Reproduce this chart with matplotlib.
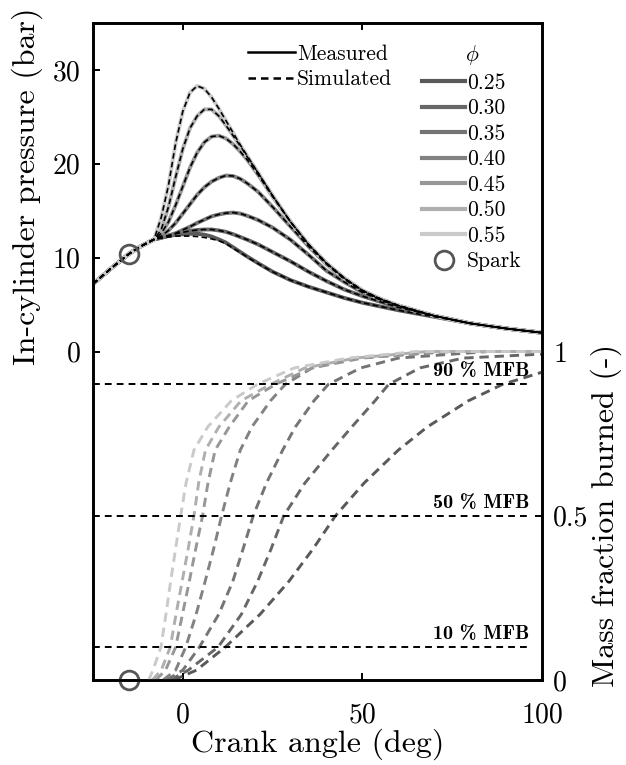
import matplotlib
matplotlib.use('Agg')
import matplotlib.pyplot as plt
from matplotlib.lines import Line2D

# LaTeX-like look
plt.rcParams['font.family'] = 'serif'
plt.rcParams['font.serif'] = ['cmr10']
plt.rcParams['mathtext.fontset'] = 'cm'
plt.rcParams['axes.formatter.use_mathtext'] = True
plt.rcParams['axes.unicode_minus'] = False

# equivalence ratios and their grey levels
phi_labels = ['0.25', '0.30', '0.35', '0.40', '0.45', '0.50', '0.55']
phi_colors = ['#595959', '#676767', '#747474', '#828282', '#979797', '#afafaf', '#cacaca']

# in-cylinder pressure (bar) vs crank angle (deg)
ca_p = [-25, -20, -15, -12, -10, -8, -6, -4, -2, 0, 2, 4, 6, 8, 10, 12, 14, 16, 18,
        21, 25, 30, 35, 40, 45, 50, 55, 60, 70, 80, 90, 100]
p_025 = [7.2, 8.85, 10.4, 11.15, 11.55, 11.95, 12.15, 12.3, 12.45, 12.5, 12.55, 12.55, 12.45,
         12.25, 11.95, 11.6, 11.1, 10.6, 10.1, 9.4, 8.5, 7.6, 6.9, 6.3, 5.7, 5.2, 4.8, 4.4,
         3.7, 3.0, 2.45, 2.0]
p_030 = [7.2, 8.85, 10.4, 11.15, 11.55, 11.95, 12.1, 12.35, 12.55, 12.7, 12.85, 12.95, 13.0,
         13.0, 12.9, 12.75, 12.5, 12.2, 11.9, 11.4, 10.6, 9.6, 8.5, 7.5, 6.6, 5.9, 5.3, 4.7,
         3.8, 3.0, 2.45, 2.0]
p_035 = [7.2, 8.85, 10.4, 11.15, 11.55, 11.95, 12.15, 12.35, 12.6, 12.95, 13.3, 13.7, 14.05,
         14.4, 14.6, 14.75, 14.8, 14.7, 14.45, 14.0, 13.2, 11.9, 10.3, 8.6, 7.4, 6.3, 5.5, 4.8,
         3.8, 3.0, 2.45, 2.0]
p_040 = [7.2, 8.85, 10.4, 11.15, 11.55, 11.95, 12.3, 12.9, 13.7, 14.7, 15.7, 16.7, 17.5,
         18.1, 18.5, 18.75, 18.7, 18.4, 17.9, 17.0, 15.4, 13.3, 11.2, 9.3, 7.7, 6.4, 5.5, 4.85,
         3.8, 3.0, 2.45, 2.0]
p_045 = [7.2, 8.85, 10.4, 11.15, 11.55, 11.95, 12.6, 13.8, 15.6, 17.6, 19.6, 21.2, 22.3,
         22.9, 23.0, 22.7, 22.1, 21.3, 20.4, 18.8, 16.5, 13.8, 11.4, 9.4, 7.8, 6.5, 5.6, 4.9,
         3.8, 3.0, 2.45, 2.0]
p_050 = [7.2, 8.85, 10.4, 11.15, 11.55, 11.95, 13.0, 15.4, 18.6, 21.6, 23.8, 25.1, 25.8,
         25.8, 25.1, 24.1, 23.0, 21.9, 20.7, 19.0, 16.6, 13.8, 11.4, 9.4, 7.8, 6.5, 5.6, 4.9,
         3.8, 3.0, 2.45, 2.0]
p_055 = [7.2, 8.85, 10.4, 11.15, 11.55, 11.95, 14.3, 17.7, 22.2, 25.6, 27.6, 28.3, 28.0,
         27.1, 25.9, 24.6, 23.3, 22.0, 20.8, 19.0, 16.6, 13.8, 11.4, 9.4, 7.8, 6.5, 5.6, 4.9,
         3.8, 3.0, 2.45, 2.0]
# simulated pressure; only the leanest case departs visibly from the measurement
p_025_sim = [7.2, 8.85, 10.4, 11.15, 11.55, 11.95, 12.1, 12.2, 12.3, 12.3, 12.3, 12.25, 12.15,
             12.0, 11.8, 11.5, 11.0, 10.55, 10.05, 9.35, 8.5, 7.6, 6.9, 6.3, 5.7, 5.2, 4.8, 4.4,
             3.7, 3.0, 2.45, 2.0]

p_meas = [p_025, p_030, p_035, p_040, p_045, p_050, p_055]
p_sim = [p_025_sim, p_030, p_035, p_040, p_045, p_050, p_055]

# mass fraction burned (simulated), crank angle per curve
mfb_055 = [0, 0.03, 0.1, 0.2, 0.3, 0.4, 0.5, 0.6, 0.7, 0.77, 0.85, 0.9, 0.95, 0.98, 1.0, 1.0]
ca_mfb_055 = [-9.5, -8.3, -6.1, -4.7, -3.4, -2.0, -0.6, 0.9, 3.1, 6.9, 13.5, 20.7, 31, 46, 65, 100]
mfb_050 = [0, 0.03, 0.1, 0.2, 0.3, 0.4, 0.5, 0.6, 0.7, 0.77, 0.85, 0.9, 0.95, 0.98, 1.0, 1.0]
ca_mfb_050 = [-8.5, -6.0, -3.5, -1.9, -0.2, 1.5, 3.1, 4.4, 6.3, 10.0, 16.2, 24.4, 34, 48, 68, 100]
mfb_045 = [0, 0.03, 0.1, 0.2, 0.3, 0.4, 0.5, 0.6, 0.7, 0.77, 0.85, 0.9, 0.95, 0.98, 1.0, 1.0]
ca_mfb_045 = [-7.5, -4.8, -2.0, -0.1, 1.8, 3.6, 5.5, 7.0, 9.0, 12.9, 18.2, 25.8, 36, 50, 72, 100]
mfb_040 = [0, 0.03, 0.1, 0.2, 0.3, 0.4, 0.5, 0.6, 0.7, 0.77, 0.85, 0.9, 0.95, 0.98, 1.0, 1.0]
ca_mfb_040 = [-5.5, -2.0, 0.8, 3.7, 6.2, 8.6, 10.8, 13.2, 16.0, 19.2, 24.4, 28.5, 36, 48, 75, 100]
mfb_035 = [0, 0.03, 0.1, 0.2, 0.3, 0.4, 0.5, 0.6, 0.7, 0.77, 0.85, 0.9, 0.95, 0.98, 1.0, 1.0]
ca_mfb_035 = [-4.5, 0.0, 4.6, 10.0, 13.9, 16.8, 19.6, 23.3, 27.8, 31.3, 36.5, 40.5, 49.5, 60, 85, 100]
mfb_030 = [0, 0.03, 0.1, 0.2, 0.3, 0.4, 0.5, 0.6, 0.7, 0.77, 0.85, 0.9, 0.95, 0.98, 0.992]
ca_mfb_030 = [-3.5, 1.5, 9.8, 16.3, 20.8, 24.6, 28.1, 34, 41.5, 47, 53.5, 57.3, 66, 78, 100]
mfb_025 = [0, 0.03, 0.1, 0.2, 0.3, 0.4, 0.5, 0.6, 0.7, 0.77, 0.85, 0.9, 0.937]
ca_mfb_025 = [-2.5, 3.8, 11.8, 21.5, 29.5, 36.3, 42.5, 50.5, 60, 68, 79.5, 89, 100]

ca_mfb = [ca_mfb_025, ca_mfb_030, ca_mfb_035, ca_mfb_040, ca_mfb_045, ca_mfb_050, ca_mfb_055]
mfb = [mfb_025, mfb_030, mfb_035, mfb_040, mfb_045, mfb_050, mfb_055]

mfb_marks = [0.1, 0.5, 0.9]
mfb_mark_labels = ['10 % MFB', '50 % MFB', '90 % MFB']

spark_ca = -15
spark_p = 10.4
spark_mfb = 0

fig = plt.figure(figsize=(6.26, 7.65), dpi=100)
ax = fig.add_axes([0.1486, 0.1111, 0.7173, 0.8588])
ax2 = ax.twinx()

# pressure traces
for p, c in zip(p_meas, phi_colors):
    ax.plot(ca_p, p, color=c, lw=2.8, solid_capstyle='round', zorder=2)
for p in p_sim:
    ax.plot(ca_p, p, color='k', lw=1.2, ls=(0, (3.3, 2.0)), zorder=3)
ax.plot(spark_ca, spark_p, 'o', mfc='none', mec='#555555', ms=13.5, mew=2.0, zorder=4)

# burned fraction
for x, y, c in zip(ca_mfb, mfb, phi_colors):
    ax2.plot(x, y, color=c, lw=2.1, ls=(0, (3.2, 2.0)))
ax2.hlines(mfb_marks, -25, 96.7, color='k', lw=1.4, linestyles=[(0, (3.5, 2.6))])
for lvl, txt in zip(mfb_marks, mfb_mark_labels):
    ax2.text(96.5, lvl + 0.012, txt, ha='right', va='bottom',
             fontfamily='cmb10', fontsize=14.5)
ax2.plot(spark_ca, spark_mfb, 'o', mfc='none', mec='#555555', ms=13.5, mew=2.0, clip_on=False)

ax.set_xlim(-25, 100)
ax.set_ylim(-35, 35)
ax2.set_ylim(0, 2)

ax.set_xticks([0, 50, 100])
ax.set_xticklabels(['0', '50', '100'])
ax.set_yticks([0, 10, 20, 30])
ax.set_yticklabels(['0', '10', '20', '30'])
ax2.set_yticks([0, 0.5, 1])
ax2.set_yticklabels(['0', '0.5', '1'])

ax.tick_params(axis='both', direction='in', length=5, width=1.4, labelsize=20)
ax.tick_params(axis='x', top=True, pad=16)
ax.tick_params(axis='y', pad=9)
ax2.tick_params(axis='y', direction='in', length=5, width=1.4, labelsize=20, pad=8)
for a in (ax, ax2):
    for s in a.spines.values():
        s.set_linewidth(1.9)

ax.set_xlabel('Crank angle (deg)', fontsize=23, labelpad=0)
ax.set_ylabel('In-cylinder pressure (bar)', fontsize=23)
ax.yaxis.set_label_coords(-0.112, 0.751)
ax2.set_ylabel('Mass fraction burned (-)', fontsize=23)
ax2.yaxis.set_label_coords(1.107, 0.25)

# legends
style_handles = [Line2D([], [], color='k', lw=1.8),
                 Line2D([], [], color='k', lw=1.8, ls=(0, (3, 2)))]
leg1 = ax2.legend(style_handles, ['Measured', 'Simulated'], loc='upper left',
                  bbox_to_anchor=(248 / 626, 1 - 44 / 765), bbox_transform=fig.transFigure,
                  frameon=False, fontsize=15.5, borderpad=0, borderaxespad=0,
                  handlelength=2.2, handletextpad=0.08, labelspacing=0.3)
ax2.add_artist(leg1)

phi_handles = [Line2D([], [], color=c, lw=3.0) for c in phi_colors]
phi_handles.append(Line2D([], [], ls='none', marker='o', mfc='none', mec='#555555',
                          ms=13.5, mew=2.0))
ax2.legend(phi_handles, phi_labels + ['Spark'], title='$\\phi$', title_fontsize=15.5,
           loc='upper left', bbox_to_anchor=(422 / 626, 1 - 43 / 765),
           bbox_transform=fig.transFigure, frameon=False, fontsize=15.5, borderpad=0,
           borderaxespad=0, handlelength=2.0, handletextpad=0.08, labelspacing=0.28)

fig.savefig('out.png', dpi=100)
